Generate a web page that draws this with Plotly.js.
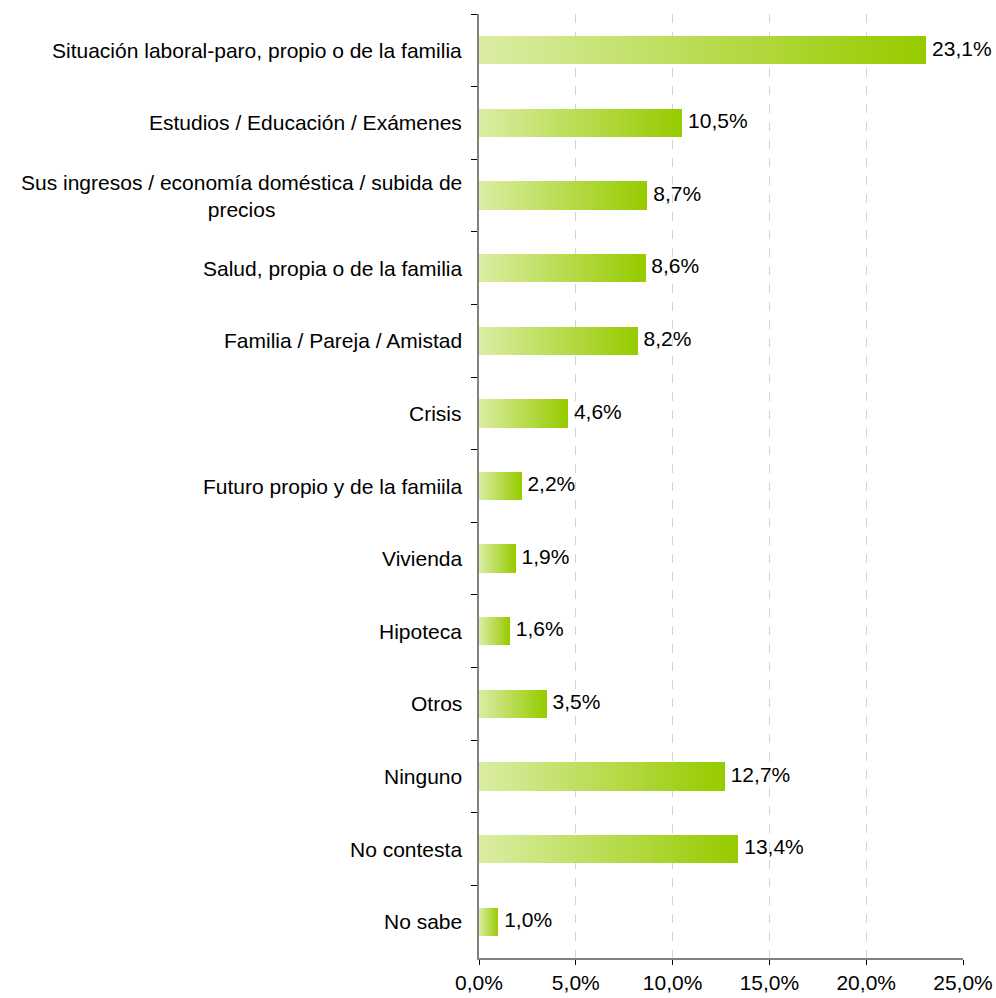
<!DOCTYPE html>
<html>
<head>
<meta charset="utf-8">
<script src="https://cdn.plot.ly/plotly-3.0.1.min.js"></script>
<style>html,body{margin:0;padding:0;background:#fff;}#chart{width:996px;height:998px;}</style>
</head>
<body>
<div id="chart"></div>
<script>
const categories = [
  'Situación laboral-paro, propio o de la familia',
  'Estudios / Educación / Exámenes',
  'Sus ingresos / economía doméstica / subida de<br>precios',
  'Salud, propia o de la familia',
  'Familia / Pareja / Amistad',
  'Crisis',
  'Futuro propio y de la famiila',
  'Vivienda',
  'Hipoteca',
  'Otros',
  'Ninguno',
  'No contesta',
  'No sabe'
];
const values = [23.1, 10.5, 8.7, 8.6, 8.2, 4.6, 2.2, 1.9, 1.6, 3.5, 12.7, 13.4, 1.0];
const xTickValues = [0, 5, 10, 15, 20, 25];
const xTickLabels = ['0,0%', '5,0%', '10,0%', '15,0%', '20,0%', '25,0%'];

const FONT = 'Liberation Sans, Arial, sans-serif';
const lightColor = [218, 237, 162];
const darkColor = [151, 203, 0];
const N = 60;
const traces = [];
for (let i = 0; i < N; i++) {
  const t = i / (N - 1);
  const c = lightColor.map((a, k) => Math.round(a + (darkColor[k] - a) * t));
  traces.push({
    type: 'bar',
    orientation: 'h',
    y: categories,
    x: values.map(v => v / N),
    marker: { color: 'rgb(' + c.join(',') + ')', line: { width: 0 } },
    hoverinfo: 'skip',
    showlegend: false
  });
}
traces.push({
  type: 'scatter',
  mode: 'text',
  y: categories,
  x: values,
  text: values.map(v => ' ' + v.toFixed(1).replace('.', ',') + '%'),
  textposition: 'middle right',
  textfont: { family: FONT, size: 21, color: '#000' },
  hoverinfo: 'skip',
  showlegend: false,
  cliponaxis: false
});

const annotations = categories.map(c => ({
  xref: 'paper', yref: 'y', x: 0, y: c,
  xanchor: 'right', yanchor: 'middle',
  xshift: -15,
  text: c, showarrow: false, align: 'center',
  font: { family: FONT, size: 21, color: '#000' }
}));

const layout = {
  width: 996, height: 998,
  margin: { l: 479, r: 33, t: 14, b: 40 },
  paper_bgcolor: '#fff', plot_bgcolor: '#fff',
  barmode: 'stack',
  bargap: 0.61,
  showlegend: false,
  font: { family: FONT, size: 21, color: '#000' },
  xaxis: {
    range: [0, 25],
    tickmode: 'array',
    tickvals: xTickValues,
    ticktext: xTickLabels,
    showgrid: true,
    gridcolor: '#d4d4d4',
    griddash: 'dash',
    gridwidth: 1,
    zeroline: false,
    showline: true,
    linecolor: '#808080',
    linewidth: 1.5,
    ticks: 'outside',
    ticklen: 5,
    tickcolor: '#000',
    tickwidth: 1,
    tickfont: { family: FONT, size: 21, color: '#000' },
    automargin: false,
    fixedrange: true
  },
  yaxis: {
    type: 'category',
    range: [categories.length - 0.5, -0.5],
    autorange: false,
    showticklabels: false,
    showgrid: false,
    zeroline: false,
    showline: true,
    linecolor: '#808080',
    linewidth: 2,
    ticks: 'outside',
    tickson: 'boundaries',
    ticklen: 6,
    tickcolor: '#000',
    tickwidth: 1,
    fixedrange: true
  },
  annotations: annotations
};

Plotly.newPlot('chart', traces, layout, { displayModeBar: false, staticPlot: true });
</script>
</body>
</html>
